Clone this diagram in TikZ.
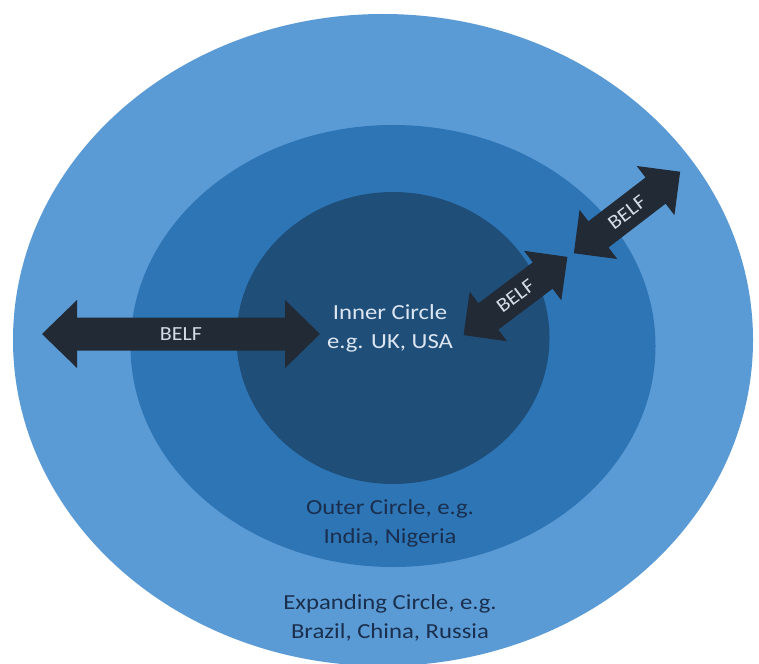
\documentclass[tikz,border=0pt]{standalone}
\usepackage{fontspec}
\setmainfont{Carlito}
\usetikzlibrary{shapes.geometric}

\definecolor{expandblue}{HTML}{5B9BD5}
\definecolor{outerblue}{HTML}{2E75B6}
\definecolor{innerblue}{HTML}{1F4E79}
\definecolor{arrowdark}{HTML}{222A35}
\definecolor{lighttext}{HTML}{DCE6F2}
\definecolor{darktext}{HTML}{1A2F4E}

\tikzset{
  ring/.style={ellipse, inner sep=0pt, outer sep=0pt},
  label text/.style={align=center, font=\fontsize{21.5}{29}\selectfont, inner sep=0pt,
    xscale=1.15, transform shape},
  belftext/.style={text=lighttext!90!gray, font=\fontsize{20}{20}\selectfont, inner sep=0pt,
    xscale=1.1, transform shape},
  % double-headed block arrow: half length, head length, head half width, shaft half width
  pics/belfarrow/.style n args={4}{code={
    \fill[arrowdark]
      (-#1,0) -- (-#1+#2,#3) -- (-#1+#2,#4) -- (#1-#2,#4) -- (#1-#2,#3) -- (#1,0)
      -- (#1-#2,-#3) -- (#1-#2,-#4) -- (-#1+#2,-#4) -- (-#1+#2,-#3) -- cycle;
    \node[belftext] (-label) {BELF};
  }}
}

\begin{document}
\begin{tikzpicture}[x=1pt, y=-1pt]
  \useasboundingbox (0,0) rectangle (759,663);
  \fill[white] (0,0) rectangle (759,663);

  % the three concentric circles
  \node[ring, fill=expandblue, minimum width=740pt, minimum height=652pt] (expanding) at (383,340) {};
  \node[ring, fill=outerblue, minimum width=525pt, minimum height=442pt] (outer) at (393,346) {};
  \node[ring, fill=innerblue, minimum width=313pt, minimum height=292pt] (inner) at (393,338) {};

  % circle labels
  \node[label text, text=lighttext] (innerlabel) at (390,328) {Inner Circle\\e.g. UK, USA};
  \node[label text, text=darktext] (outerlabel) at (390,523) {Outer Circle, e.g.\\India, Nigeria};
  \node[label text, text=darktext] (expandlabel) at (390,618) {Expanding Circle, e.g.\\Brazil, China, Russia};

  % BELF arrows
  \pic (belfa) at (181,334) {belfarrow={139pt}{35pt}{34pt}{16.5pt}};
  \pic[rotate=37] (belfb) at (515.5,296) {belfarrow={65pt}{31pt}{31pt}{16.5pt}};
  \pic[rotate=37.5] (belfc) at (627,212.5) {belfarrow={67pt}{31pt}{31pt}{16.5pt}};
\end{tikzpicture}
\end{document}
